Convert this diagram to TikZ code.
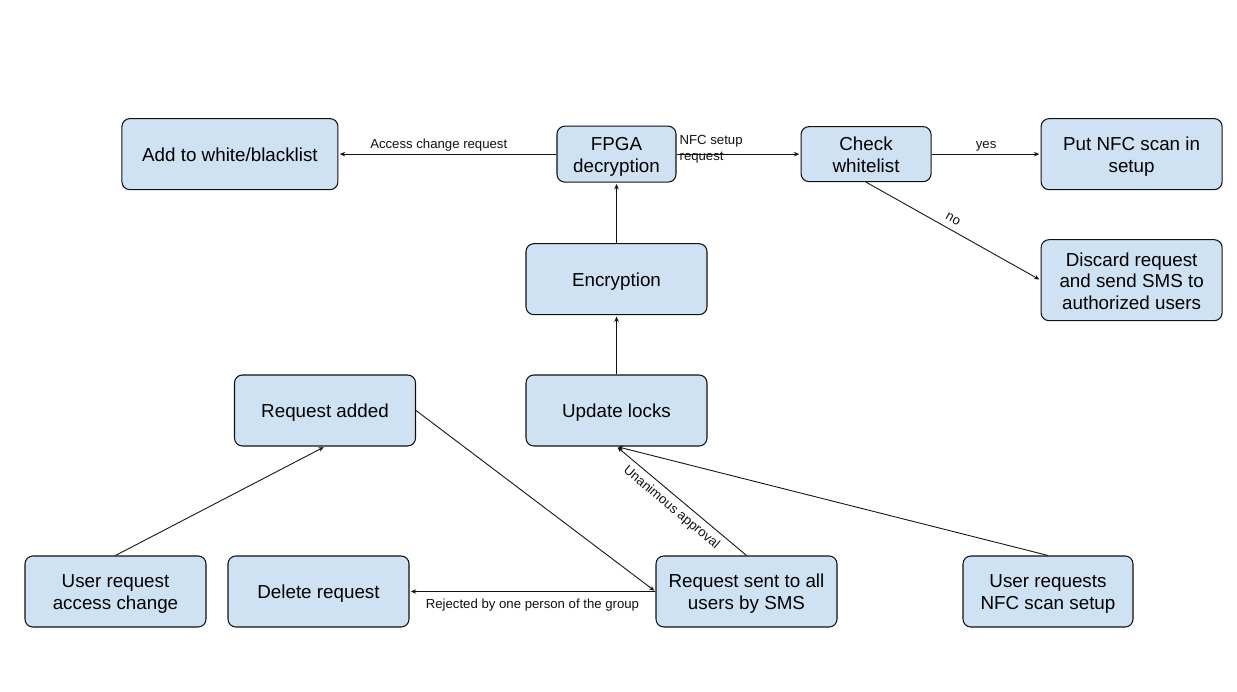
\documentclass[tikz,border=0pt]{standalone}
\usepackage{fontspec}
\setmainfont{Liberation Sans}
\usetikzlibrary{arrows.meta, positioning}
\definecolor{boxblue}{HTML}{CFE2F3}
\definecolor{ink}{HTML}{111111}
\newcommand{\linestrut}{\rule[-0.12em]{0pt}{1.07em}}
\tikzset{
  box/.style={rectangle, rounded corners=4.5pt, draw=ink, line width=0.6pt, fill=boxblue,
    minimum width=3.62cm, minimum height=1.42cm, align=center, inner sep=2pt,
    font=\fontsize{10.7}{12.5}\selectfont,
    execute at begin node=\linestrut, execute at end node=\linestrut},
  boxwide/.style={box, minimum width=4.32cm},
  boxtall/.style={box, minimum height=1.62cm},
  boxsmall/.style={box, minimum width=2.38cm, minimum height=1.12cm},
  arrow/.style={-{Stealth[length=3pt, width=2.6pt]}, line width=0.5pt, ink, shorten >=0.8pt},
  lbl/.style={font=\fontsize{7.5}{9}\selectfont, inner sep=1.5pt, text=ink},
}

\begin{document}
\begin{tikzpicture}[node distance=1.185cm]
\useasboundingbox (0,0) rectangle (24.74,-13.84);
% middle column
\node[box] (upd) at (12.33,-8.21) {Update locks};
\node[box, above=of upd] (enc) {Encryption};
\node[boxsmall, above=1.21cm of enc] (fpga) {\linestrut FPGA\\decryption};
% top row
\node[boxwide, left=4.36cm of fpga] (addlist) {Add to white/blacklist};
\node[boxsmall, minimum width=2.6cm, minimum height=1.1cm, right=2.48cm of fpga] (check) {\linestrut Check\\whitelist};
\node[box, right=2.18cm of check] (putnfc) {\linestrut Put NFC scan in\\setup};
\node[boxtall, below=0.98cm of putnfc] (discard) {\linestrut Discard request\\and send SMS to\\authorized users};
% lower part
\node[box] (reqadd) at (6.50,-8.21) {Request added};
\node[box] (useracc) at (2.31,-11.83) {\linestrut User request\\access change};
\node[box] (delreq) at (6.37,-11.83) {Delete request};
\node[box] (reqsent) at (14.93,-11.83) {\linestrut Request sent to all\\users by SMS};
\node[box, minimum width=3.4cm] (usernfc) at (20.96,-11.83) {\linestrut User requests\\NFC scan setup};

\draw[arrow] (fpga) -- node[lbl, above, pos=0.54] {Access change request} (addlist);
\draw[arrow] (fpga) -- node[lbl, pos=0, anchor=west, align=left, yshift=0.1cm] {NFC setup\\request} (check);
\draw[arrow] (check) -- node[lbl, above] {yes} (putnfc);
\draw[arrow] (check.south) -- node[lbl, above=2pt, sloped, pos=0.47] {no} (discard.west);
\draw[arrow] (reqsent) -- node[lbl, below=2.5pt, pos=0.5] {Rejected by one person of the group} (delreq);
\draw[arrow] (reqsent.north) -- node[lbl, below=1.5pt, sloped, pos=0.52] {Unanimous approval} (upd.south);
\foreach \a/\b in {upd/enc, enc/fpga, useracc.north/reqadd.south, reqadd.east/reqsent.west, usernfc.north/upd.south}
  \draw[arrow] (\a)--(\b);
\end{tikzpicture}
\end{document}
